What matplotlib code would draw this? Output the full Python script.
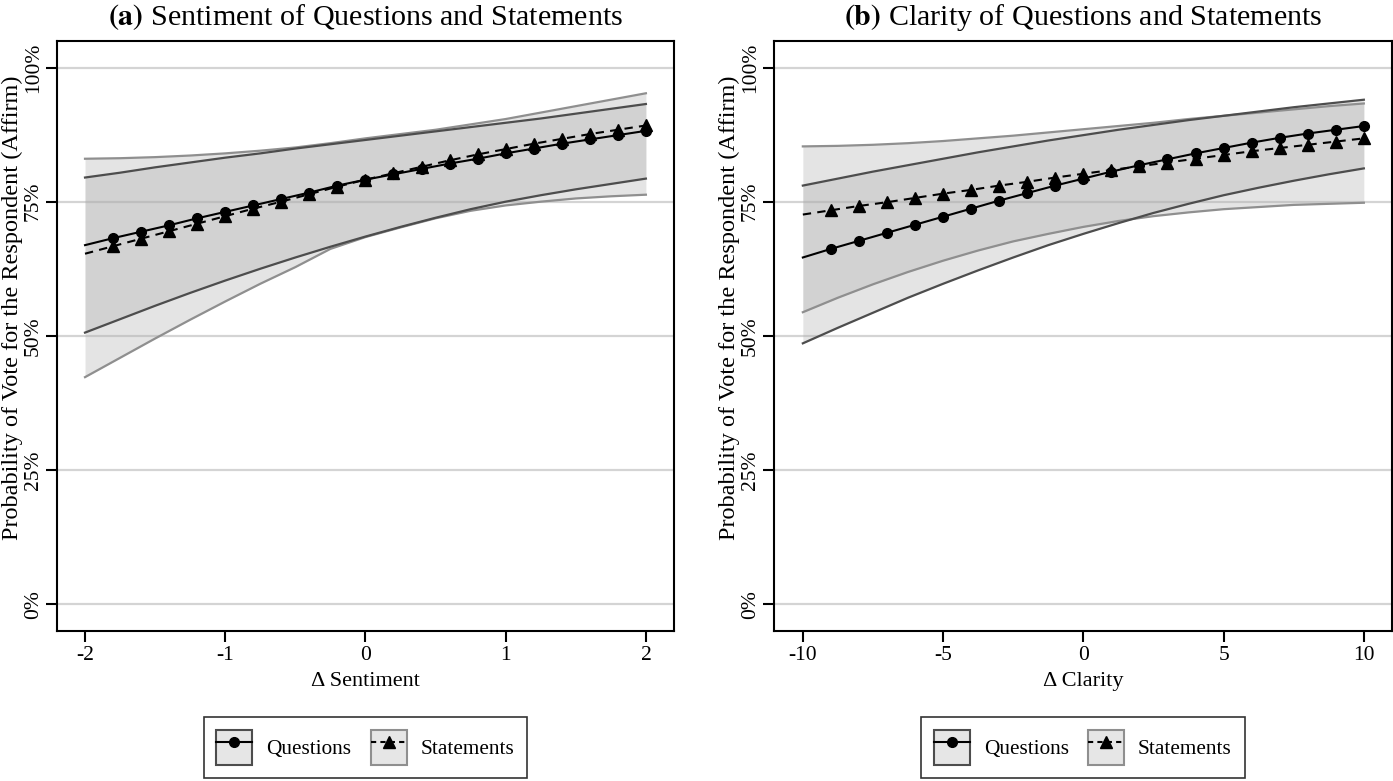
import matplotlib
matplotlib.use("Agg")
import matplotlib.pyplot as plt
from matplotlib.patches import Patch
from matplotlib.lines import Line2D
from matplotlib.legend_handler import HandlerTuple

plt.rcParams['font.family'] = ['Liberation Serif', 'DejaVu Serif']
plt.rcParams['mathtext.fontset'] = 'stix'

# ---------------- Data: panel (a) Sentiment ----------------
sent_x = [-2.0, -1.8, -1.6, -1.4, -1.2, -1.0, -0.8, -0.6, -0.4, -0.2, 0.0,
          0.2, 0.4, 0.6, 0.8, 1.0, 1.2, 1.4, 1.6, 1.8, 2.0]
sent_questions = [66.9, 68.2, 69.4, 70.6, 71.9, 73.1, 74.3, 75.5, 76.7, 78.0, 79.1,
                  80.1, 81.1, 82.1, 83.0, 84.0, 84.9, 85.8, 86.6, 87.4, 88.2]
sent_statements = [65.3, 66.7, 68.1, 69.5, 70.9, 72.3, 73.7, 75.0, 76.4, 77.8, 79.1,
                   80.3, 81.5, 82.7, 83.8, 84.8, 85.8, 86.7, 87.6, 88.4, 89.2]
sent_band_x = [-2.0, -1.75, -1.5, -1.25, -1.0, -0.75, -0.5, -0.25, 0.0,
               0.25, 0.5, 0.75, 1.0, 1.25, 1.5, 1.75, 2.0]
sent_q_upper = [79.5, 80.4, 81.4, 82.3, 83.2, 84.0, 84.9, 85.7, 86.5,
                87.3, 88.1, 88.9, 89.7, 90.5, 91.4, 92.3, 93.2]
sent_q_lower = [50.6, 53.1, 55.6, 58.0, 60.3, 62.5, 64.6, 66.6, 68.5,
                70.3, 72.0, 73.6, 75.0, 76.2, 77.3, 78.3, 79.3]
sent_s_upper = [83.0, 83.1, 83.3, 83.6, 84.0, 84.5, 85.1, 85.9, 86.8,
                87.6, 88.4, 89.4, 90.4, 91.6, 92.8, 94.0, 95.2]
sent_s_lower = [42.3, 45.9, 49.5, 53.0, 56.4, 59.7, 62.8, 66.2, 68.4,
                70.2, 71.9, 73.3, 74.3, 75.0, 75.6, 76.0, 76.3]

# ---------------- Data: panel (b) Clarity ----------------
clar_x = [-10, -9, -8, -7, -6, -5, -4, -3, -2, -1, 0,
          1, 2, 3, 4, 5, 6, 7, 8, 9, 10]
clar_questions = [64.6, 66.2, 67.7, 69.2, 70.7, 72.2, 73.7, 75.2, 76.6, 78.0, 79.3,
                  80.6, 81.8, 82.9, 84.0, 85.0, 86.0, 86.9, 87.7, 88.4, 89.1]
clar_statements = [72.6, 73.4, 74.2, 74.9, 75.7, 76.5, 77.2, 78.0, 78.7, 79.5, 80.2,
                   80.9, 81.6, 82.3, 83.0, 83.7, 84.4, 85.0, 85.6, 86.2, 86.8]
clar_band_x = [-10, -8.75, -7.5, -6.25, -5, -3.75, -2.5, -1.25, 0,
               1.25, 2.5, 3.75, 5, 6.25, 7.5, 8.75, 10]
clar_q_upper = [78.0, 79.3, 80.6, 81.8, 83.0, 84.2, 85.3, 86.4, 87.4,
                88.4, 89.3, 90.2, 91.0, 91.8, 92.6, 93.3, 94.0]
clar_q_lower = [48.6, 51.5, 54.3, 57.1, 59.7, 62.2, 64.6, 66.9, 69.0,
                71.0, 72.9, 74.6, 76.2, 77.6, 78.9, 80.1, 81.2]
clar_s_upper = [85.3, 85.4, 85.6, 85.9, 86.3, 86.8, 87.3, 87.9, 88.5,
                89.1, 89.7, 90.4, 91.0, 91.6, 92.2, 92.8, 93.3]
clar_s_lower = [54.4, 57.1, 59.6, 61.9, 64.0, 65.9, 67.6, 69.0, 70.3,
                71.4, 72.3, 73.0, 73.6, 74.0, 74.4, 74.6, 74.8]

y_ticks = [0, 25, 50, 75, 100]
y_ticklabels = ['0%', '25%', '50%', '75%', '100%']
series_labels = ['Questions', 'Statements']

DARK_EDGE = '#4d4d4d'
LIGHT_EDGE = '#8f8f8f'
FILL = '#aaaaaa'
FILL_ALPHA = 0.31

fig = plt.figure(figsize=(13.93, 7.81), dpi=100)
ax1 = fig.add_axes([0.0409, 0.1921, 0.4429, 0.7558])
ax2 = fig.add_axes([0.5556, 0.1921, 0.4434, 0.7558])


def draw(ax, x, q, s, bx, qu, ql, su, sl, xlim, xticks, xticklabels, xlabel, title_bold, title_rest):
    for yv in y_ticks:
        ax.axhline(yv, color='#d4d4d4', lw=1.6, zorder=0)
    ax.fill_between(bx, ql, qu, color=FILL, alpha=FILL_ALPHA, lw=0, zorder=1)
    ax.fill_between(bx, sl, su, color=FILL, alpha=FILL_ALPHA, lw=0, zorder=1)
    ax.plot(bx, su, color=LIGHT_EDGE, lw=1.6, zorder=2)
    ax.plot(bx, sl, color=LIGHT_EDGE, lw=1.6, zorder=2)
    ax.plot(bx, qu, color=DARK_EDGE, lw=1.6, zorder=2)
    ax.plot(bx, ql, color=DARK_EDGE, lw=1.6, zorder=2)
    ax.plot(x, s, color='black', lw=1.5, ls=(0, (4, 3)), marker='^', markersize=8,
            markevery=slice(1, None), zorder=3)
    ax.plot(x, q, color='black', lw=1.5, ls='-', marker='o', markersize=7,
            markevery=slice(1, None), zorder=4)
    ax.set_xlim(*xlim)
    ax.set_ylim(-5, 105)
    ax.set_xticks(xticks)
    ax.set_xticklabels(xticklabels, fontsize=15.5)
    ax.set_yticks(y_ticks)
    ax.set_yticklabels(y_ticklabels, fontsize=15.5, rotation=90, va='center')
    ax.tick_params(axis='both', length=8, width=1.5, color='black', direction='out')
    ax.tick_params(axis='y', pad=2)
    ax.tick_params(axis='x', pad=3)
    for sp in ax.spines.values():
        sp.set_linewidth(1.5)
        sp.set_color('black')
    ax.set_xlabel(xlabel, fontsize=16, labelpad=5)
    ax.set_ylabel('Probability of Vote for the Respondent (Affirm)', fontsize=17.5, labelpad=1)
    ax.yaxis.label.set_y(0.547)
    ax.set_title(r'$\mathbf{' + title_bold + r'}$ ' + title_rest, fontsize=21.6, pad=11)

    q_handle = (Patch(facecolor='#e6e6e6', edgecolor=DARK_EDGE, lw=1.5),
                Line2D([], [], color='black', lw=1.5, marker='o', markersize=7))
    s_handle = (Patch(facecolor='#e6e6e6', edgecolor=LIGHT_EDGE, lw=1.5),
                Line2D([], [], color='black', lw=1.5, ls=(0, (2.5, 2)), marker='^', markersize=8))
    leg = ax.legend([q_handle, s_handle], series_labels,
                    handler_map={tuple: HandlerTuple(ndivide=1, pad=0)},
                    loc='upper center', bbox_to_anchor=(0.5, -0.1457), borderaxespad=0,
                    ncol=2, fontsize=15.3, frameon=True, fancybox=False, edgecolor='black',
                    handlelength=1.7, handleheight=2.16, handletextpad=0.66, columnspacing=0.9,
                    borderpad=0.6)
    leg.get_frame().set_linewidth(1.2)


draw(ax1, sent_x, sent_questions, sent_statements, sent_band_x,
     sent_q_upper, sent_q_lower, sent_s_upper, sent_s_lower,
     (-2.2, 2.2), [-2, -1, 0, 1, 2], ['-2', '-1', '0', '1', '2'],
     'Δ Sentiment', '(a)', 'Sentiment of Questions and Statements')
draw(ax2, clar_x, clar_questions, clar_statements, clar_band_x,
     clar_q_upper, clar_q_lower, clar_s_upper, clar_s_lower,
     (-11.03, 10.99), [-10, -5, 0, 5, 10], ['-10', '-5', '0', '5', '10'],
     'Δ Clarity', '(b)', 'Clarity of Questions and Statements')

fig.savefig('out.png', dpi=100)
